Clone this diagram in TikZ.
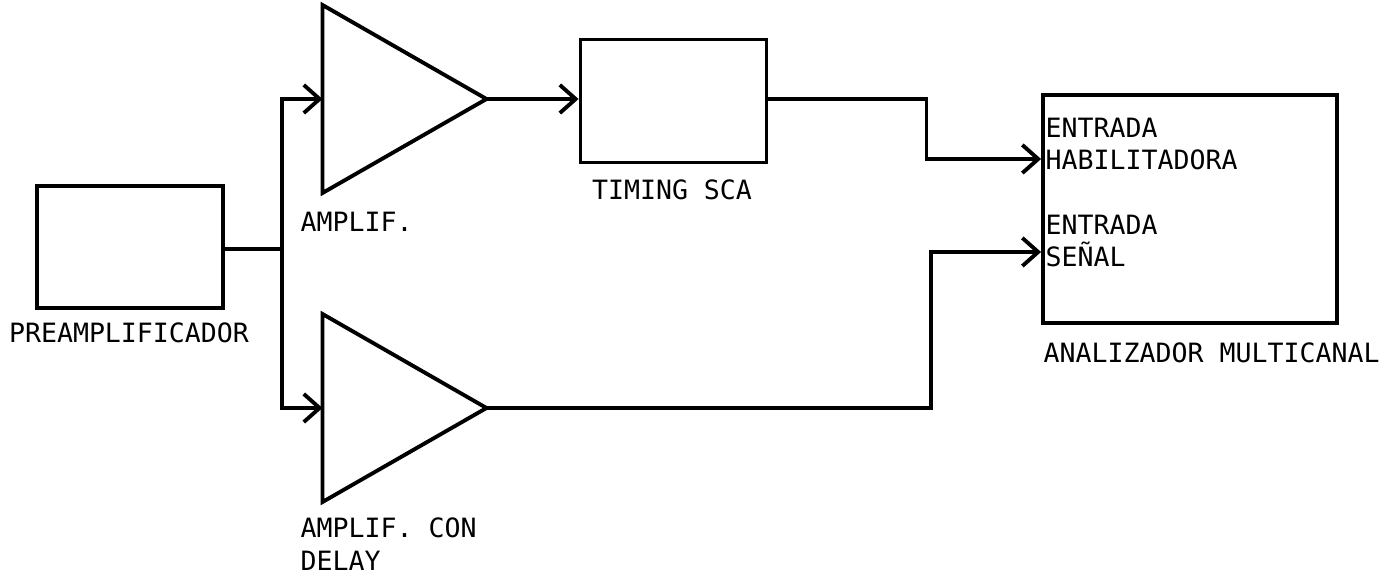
\documentclass[tikz,border=0pt]{standalone}
\usepackage{fontspec}
\newfontfamily\plotfont{DejaVu Sans Mono}
\usetikzlibrary{positioning,shapes.geometric,arrows.meta,calc}

\begin{document}
\begin{tikzpicture}[
  every node/.style={font=\plotfont\fontsize{7.56}{9.3}\selectfont},
  blk/.style  ={draw, line width=1.1pt, minimum width=1.86cm,
                minimum height=1.22cm, inner sep=0},
  amp/.style  ={draw, line width=1.1pt, isosceles triangle,
                isosceles triangle stretches, shape border rotate=0,
                minimum width=1.88cm, minimum height=1.64cm, inner sep=0,
                outer sep=0, anchor=west},
  mca/.style  ={draw, line width=1.1pt, minimum width=2.94cm,
                minimum height=2.28cm, inner sep=0},
  lbl/.style  ={inner sep=0, anchor=base west, align=left},
  wire/.style ={line width=1.1pt},
  arr/.style  ={->, line width=1.1pt},
  >={Straight Barb[length=4.5pt,width=8pt]}
]
\useasboundingbox (0,0) rectangle (14,-5.78);

%% ---- Blocks --------------------------------------------------------
\node[blk] (PRE) at (1.30,-2.47) {};
\node[amp] (A1)  at (3.225,-0.99) {};
\node[amp] (A2)  at (3.225,-4.08) {};
\node[blk, minimum height=1.23cm] (SCA) at (6.735,-1.01) {};
\node[mca] (MCA) at (11.90,-2.09) {};

%% ---- Labels --------------------------------------------------------
\node[inner sep=0, anchor=base] (lPRE) at (1.29,-3.43) {PREAMPLIFICADOR};
\node[lbl] (lA1) at (3.00,-2.32) {AMPLIF.};
\node[lbl] (lA2) at (3.00,-5.70) {AMPLIF. CON\\DELAY};
\node[inner sep=0, anchor=base] (lSCA) at (6.72,-2.00) {TIMING SCA};
\node[lbl] (lMCA) at (10.43,-3.63) {ANALIZADOR MULTICANAL};

% inputs of the analyzer
\node[lbl] (lHab) at (10.45,-1.70) {ENTRADA\\HABILITADORA};
\node[lbl] (lSig) at (10.45,-2.67) {ENTRADA\\SEÑAL};

%% ---- Connections ---------------------------------------------------
\coordinate (J) at (2.82,-2.49);
\coordinate (inHab) at ($(MCA.west)+(0,0.50)$);
\coordinate (inSig) at ($(MCA.west)+(0,-0.43)$);

\draw[wire] (PRE.east |- J) -- (J);
\draw[arr] (J) |- (A1.west);
\draw[arr] (J) |- (A2.west);
\draw[arr] (A1.east) -- (SCA.west |- A1.east);
\draw[arr] (SCA.east |- A1.east) -- ++(1.58,0) |- (inHab);
\draw[arr] (A2.east) -| ($(inSig)+(-1.10,0)$) -- (inSig);

\end{tikzpicture}
\end{document}
